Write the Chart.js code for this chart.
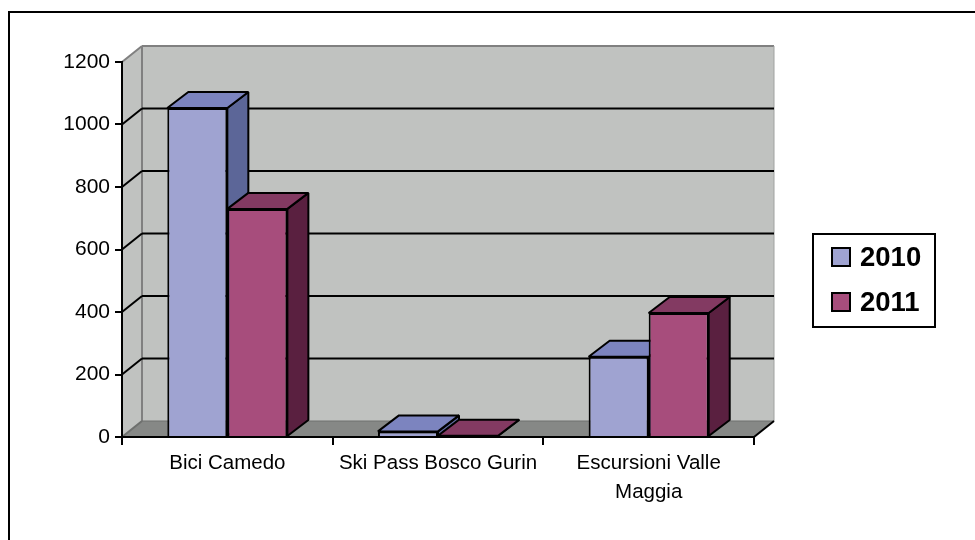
<!DOCTYPE html>
<html>
<head>
<meta charset="utf-8">
<title>Chart</title>
<script src="https://cdn.jsdelivr.net/npm/chart.js@4/dist/chart.umd.min.js"></script>
<style>
html, body { margin: 0; padding: 0; background: #fff; overflow: hidden; }
canvas { display: block; }
</style>
</head>
<body>
<canvas id="myChart" width="975" height="540"></canvas>
<script>
const categories = ['Bici Camedo', 'Ski Pass Bosco Gurin', ['Escursioni Valle', 'Maggia']];
const values2010 = [1053, 18, 257];
const values2011 = [730, 4, 397];
const yTicks = [0, 200, 400, 600, 800, 1000, 1200];

const fontName = '"Liberation Sans", Arial, sans-serif';

// colori delle facce: frontale, sopra, lato
const faces2010 = { front: '#9fa3d1', top: '#7c84bf', side: '#5c6698' };
const faces2011 = { front: '#a74d7c', top: '#833a62', side: '#5a2040' };

// spostamento prospettico della parete e delle barre
const wallDx = 20, wallDy = -16;
const barDx = 21, barDy = -16;

function poly(ctx, pts, fill, stroke, lw) {
    ctx.beginPath();
    pts.forEach((p, i) => i ? ctx.lineTo(p[0], p[1]) : ctx.moveTo(p[0], p[1]));
    ctx.closePath();
    if (fill) { ctx.fillStyle = fill; ctx.fill(); }
    if (stroke) { ctx.strokeStyle = stroke; ctx.lineWidth = lw; ctx.stroke(); }
}

function line(ctx, x1, y1, x2, y2, color, lw) {
    ctx.beginPath();
    ctx.moveTo(x1, y1);
    ctx.lineTo(x2, y2);
    ctx.strokeStyle = color;
    ctx.lineWidth = lw;
    ctx.stroke();
}

// parete di fondo, pavimento e griglia
const wallPlugin = {
    id: 'wall3d',
    beforeDraw(chart) {
        const ctx = chart.ctx, a = chart.chartArea, y = chart.scales.y;
        ctx.save();
        ctx.strokeStyle = '#000';
        ctx.lineWidth = 2;
        ctx.strokeRect(9, 12, 1100, 700);

        const bx1 = a.left + wallDx, bx2 = a.right + wallDx;
        const by1 = a.top + wallDy, by2 = a.bottom + wallDy;
        poly(ctx, [[bx1, by1], [bx2, by1], [bx2, by2], [bx1, by2]], '#c0c2c0');
        poly(ctx, [[a.left, a.top], [bx1, by1], [bx1, by2], [a.left, a.bottom]], '#c0c2c0');
        poly(ctx, [[a.left, a.bottom], [bx1, by2], [bx2, by2], [a.right, a.bottom]], '#868886');

        line(ctx, a.left, a.top, bx1, by1, '#808080', 2);
        line(ctx, bx1, by1, bx2, by1, '#808080', 2);
        line(ctx, bx1, by1, bx1, by2, '#808080', 2);
        line(ctx, bx2, by1, bx2, by2, '#a0a2a0', 1);
        line(ctx, bx1, by2, bx2, by2, '#6e706e', 1);
        line(ctx, a.left, a.bottom, bx1, by2, '#6e706e', 2);
        line(ctx, a.right, a.bottom, bx2, by2, '#000', 2);

        yTicks.forEach(v => {
            if (v === 0 || v === 1200) return;
            const py = y.getPixelForValue(v);
            line(ctx, a.left, py, bx1, py + wallDy, '#000', 2);
            line(ctx, bx1, py + wallDy, bx2, py + wallDy, '#000', 2);
        });
        ctx.restore();
    },
    // lati e coperchi delle barre, le facce frontali le disegna Chart.js
    beforeDatasetsDraw(chart) {
        const ctx = chart.ctx;
        ctx.save();
        ctx.lineJoin = 'bevel';
        const allFaces = [faces2010, faces2011];
        for (let j = 0; j < categories.length; j++) {
            chart.data.datasets.forEach((ds, i) => {
                const bar = chart.getDatasetMeta(i).data[j];
                const l = bar.x - bar.width / 2, r = bar.x + bar.width / 2;
                const t = bar.y, b = bar.base;
                const f = allFaces[i];
                poly(ctx, [[r, t], [r + barDx, t + barDy], [r + barDx, b + barDy], [r, b]], f.side, '#000', 2);
                poly(ctx, [[l, t], [l + barDx, t + barDy], [r + barDx, t + barDy], [r, t]], f.top, '#000', 2);
            });
        }
        ctx.restore();
    },
    // legenda a destra
    afterDraw(chart) {
        const ctx = chart.ctx;
        ctx.save();
        ctx.fillStyle = '#fff';
        ctx.fillRect(813, 234, 122, 93);
        ctx.strokeStyle = '#000';
        ctx.lineWidth = 2;
        ctx.strokeRect(813, 234, 122, 93);
        ctx.font = 'bold 27.5px ' + fontName;
        ctx.textBaseline = 'middle';
        chart.data.datasets.forEach((ds, i) => {
            const top = 248 + i * 45;
            ctx.fillStyle = ds.backgroundColor;
            ctx.fillRect(832, top, 18, 18);
            ctx.strokeRect(832, top, 18, 18);
            ctx.fillStyle = '#000';
            ctx.fillText(ds.label, 860, top + 10.5);
        });
        ctx.restore();
    }
};

const ctx = document.getElementById('myChart').getContext('2d');
const myChart = new Chart(ctx, {
    type: 'bar',
    data: {
        labels: categories,
        datasets: [
            { label: '2010', data: values2010, backgroundColor: faces2010.front, borderColor: '#000', borderWidth: 2 },
            { label: '2011', data: values2011, backgroundColor: faces2011.front, borderColor: '#000', borderWidth: 2 }
        ]
    },
    options: {
        responsive: false,
        animation: false,
        devicePixelRatio: 1,
        layout: { padding: { top: 62, right: 221, left: 0, bottom: 0 } },
        datasets: { bar: { categoryPercentage: 0.57, barPercentage: 1 } },
        plugins: { legend: { display: false }, title: { display: false }, tooltip: { enabled: false } },
        scales: {
            x: {
                afterFit(scale) { scale.height = 103; },
                border: { display: true, color: '#000', width: 2 },
                grid: { offset: true, drawOnChartArea: false, drawTicks: true, tickLength: 8, color: '#000', lineWidth: 2 },
                ticks: {
                    color: '#000',
                    autoSkip: false,
                    maxRotation: 0,
                    padding: 4,
                    font: { family: fontName, size: 20.5, lineHeight: 1.41 }
                }
            },
            y: {
                min: 0,
                max: 1200,
                afterFit(scale) { scale.width = 122; },
                afterBuildTicks(scale) { scale.ticks = yTicks.map(v => ({ value: v })); },
                border: { display: true, color: '#000', width: 2 },
                grid: { drawOnChartArea: false, drawTicks: true, tickLength: 7, color: '#000', lineWidth: 2 },
                ticks: {
                    color: '#000',
                    padding: 5,
                    callback: v => String(v),
                    font: { family: fontName, size: 21 }
                }
            }
        }
    },
    plugins: [wallPlugin]
});
</script>
</body>
</html>
